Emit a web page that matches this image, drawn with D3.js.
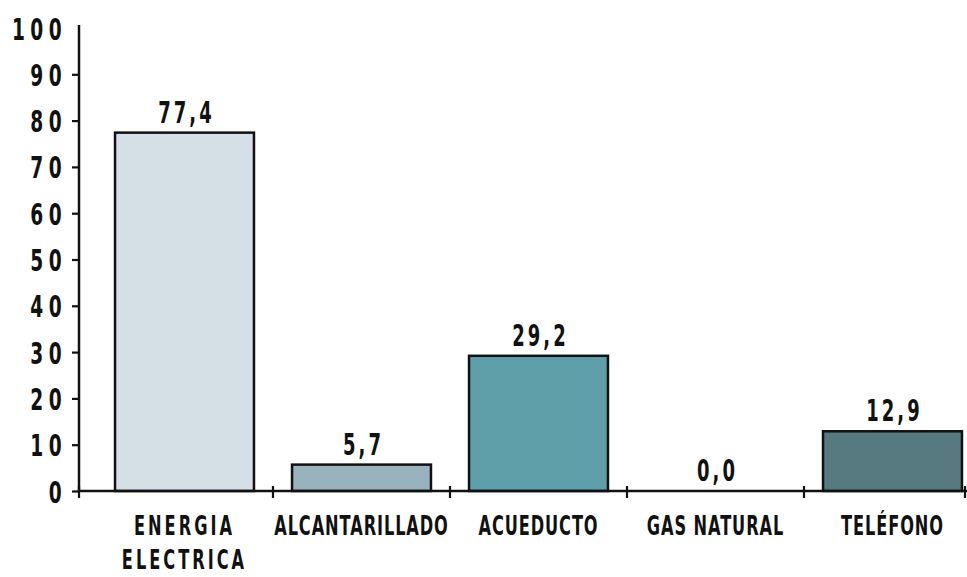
<!DOCTYPE html>
<html>
<head>
<meta charset="utf-8">
<script src="https://cdn.jsdelivr.net/npm/d3@7/dist/d3.min.js"></script>
<style>
  html, body { margin: 0; padding: 0; background: #ffffff; }
  svg { display: block; }
  .lbl { font-family: "DejaVu Sans", "Liberation Sans", sans-serif; font-weight: bold; fill: #111; }
</style>
</head>
<body>
<svg id="chart" width="967" height="577"></svg>
<script>
// Cobertura de servicios públicos (%)
const categories = ["ENERGIA\nELECTRICA", "ALCANTARILLADO", "ACUEDUCTO", "GAS NATURAL", "TELÉFONO"];
const values = [77.4, 5.7, 29.2, 0.0, 12.9];
const valueLabels = ["77,4", "5,7", "29,2", "0,0", "12,9"];
const barColors = ["#d5e0e6", "#98b2be", "#5f9faa", "#ffffff", "#577a80"];
const yTicks = [0, 10, 20, 30, 40, 50, 60, 70, 80, 90, 100];

const svg = d3.select("#chart");
const axisX = 79, baseY = 491;
const squeeze = 0.6;   // horizontal condensing of the bold face

const y = d3.scaleLinear().domain([0, 100]).range([baseY, 28]);
const x = d3.scaleBand().domain(categories).range([96, 981])
  .paddingInner(0.215).paddingOuter(0.1075);
const step = x.step();
const cx = c => x(c) + x.bandwidth() / 2;

// bars
svg.selectAll("rect.bar").data(values).enter().append("rect")
  .attr("class", "bar")
  .attr("x", (d, i) => x(categories[i]))
  .attr("width", x.bandwidth())
  .attr("y", d => y(d))
  .attr("height", d => baseY - y(d))
  .attr("fill", (d, i) => barColors[i])
  .attr("stroke", "#111")
  .attr("stroke-width", 2.5)
  .style("display", d => d > 0 ? null : "none");

// value labels
svg.selectAll("text.val").data(values).enter().append("text")
  .attr("class", "lbl val")
  .attr("transform", (d, i) => `translate(${cx(categories[i]) + 2},${y(d) - 10}) scale(${squeeze},1)`)
  .attr("text-anchor", "middle")
  .attr("font-size", 30)
  .attr("letter-spacing", 5)
  .text((d, i) => valueLabels[i]);

// y axis
const yAxis = d3.axisLeft(y).tickValues(yTicks).tickSize(7).tickSizeOuter(0)
  .tickFormat(d3.format("d"));
const gy = svg.append("g").attr("transform", `translate(${axisX},0)`).call(yAxis);
gy.select(".domain").attr("stroke", "#111").attr("stroke-width", 2.5)
  .attr("d", `M0,${y(100) - 3}V${baseY}`);
gy.selectAll(".tick line").attr("stroke", "#111").attr("stroke-width", 2.2)
  .style("display", d => d === 100 ? "none" : null);
gy.selectAll(".tick text").attr("class", "lbl")
  .attr("x", null).attr("dy", null)
  .attr("transform", `translate(-12,11) scale(${squeeze},1)`)
  .attr("font-size", 31).attr("letter-spacing", 9);

// x axis line and category separators
svg.append("line").attr("x1", axisX).attr("x2", 967).attr("y1", baseY).attr("y2", baseY)
  .attr("stroke", "#111").attr("stroke-width", 2.5);
const seps = [axisX].concat(categories.slice(1).map(c => x(c) - step * x.paddingInner() / 2), [965]);
svg.selectAll("line.sep").data(seps).enter().append("line")
  .attr("class", "sep")
  .attr("x1", d => d).attr("x2", d => d)
  .attr("y1", baseY - 5).attr("y2", baseY + 7)
  .attr("stroke", "#111").attr("stroke-width", 2.2);

// category labels
const cat = svg.selectAll("text.cat").data(categories).enter().append("text")
  .attr("class", "lbl cat")
  .attr("transform", d => `translate(${cx(d)},535) scale(${squeeze},1)`)
  .attr("text-anchor", "middle")
  .attr("font-size", 27)
  .attr("letter-spacing", d => d.includes("\n") ? 5 : 1.5);
cat.selectAll("tspan").data(d => d.split("\n").map((t, k) => ({ t, k }))).enter().append("tspan")
  .attr("x", 0)
  .attr("dy", d => d.k === 0 ? 0 : 34)
  .text(d => d.t);
</script>
</body>
</html>
